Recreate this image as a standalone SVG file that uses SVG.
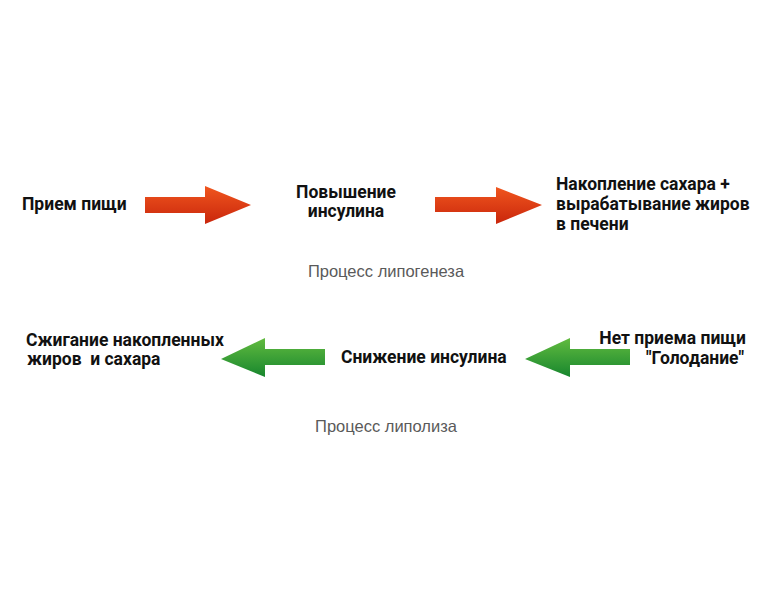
<svg xmlns="http://www.w3.org/2000/svg" width="778" height="600" viewBox="0 0 778 600">
<defs>
<linearGradient id="red" x1="0" y1="0" x2="0" y2="1">
<stop offset="0" stop-color="#f0561e"/>
<stop offset="1" stop-color="#c9260c"/>
</linearGradient>
<linearGradient id="green" x1="0" y1="0" x2="0" y2="1">
<stop offset="0" stop-color="#62bb3f"/>
<stop offset="1" stop-color="#17862e"/>
</linearGradient>
<style>
.lbl{font-family:Roboto,"Liberation Sans",sans-serif;font-weight:bold;font-size:17.5px;fill:#111}
.cap{font-family:"Liberation Sans",Arial,sans-serif;font-size:16.5px;fill:#5a5a5a}
</style>
</defs>
<rect width="778" height="600" fill="#fff"/>
<g id="connectors">
<path d="M145,197 H205 V186 L251,205 L205,224 V213 H145 Z" fill="url(#red)"/>
<path d="M435,197 H496 V187 L542,205 L496,224 V212 H435 Z" fill="url(#red)"/>
<path d="M325,349 H265 V338 L221,359 L265,377 V365 H325 Z" fill="url(#green)"/>
<path d="M630,349 H570 V338 L525,359 L570,377 V365 H630 Z" fill="url(#green)"/>
</g>
<g id="n1"><text class="lbl" x="22" y="210">Прием пищи</text></g>
<g id="n2"><text class="lbl" x="346" y="198" text-anchor="middle">Повышение</text><text class="lbl" x="346" y="217" text-anchor="middle">инсулина</text></g>
<g id="n3"><text class="lbl" x="556" y="190">Накопление сахара +</text><text class="lbl" x="556" y="210">вырабатывание жиров</text><text class="lbl" x="556" y="230">в печени</text></g>
<g id="cap1"><text class="cap" x="386" y="277" text-anchor="middle">Процесс липогенеза</text></g>
<g id="n4"><text class="lbl" x="26" y="346">Сжигание накопленных</text><text class="lbl" x="27" y="365">жиров&#160; и сахара</text></g>
<g id="n5"><text class="lbl" x="341" y="363">Снижение инсулина</text></g>
<g id="n6"><text class="lbl" x="746" y="344" text-anchor="end">Нет приема пищи</text><text class="lbl" x="744" y="364" text-anchor="end">"Голодание"</text></g>
<g id="cap2"><text class="cap" x="386" y="432" text-anchor="middle">Процесс липолиза</text></g>
</svg>
